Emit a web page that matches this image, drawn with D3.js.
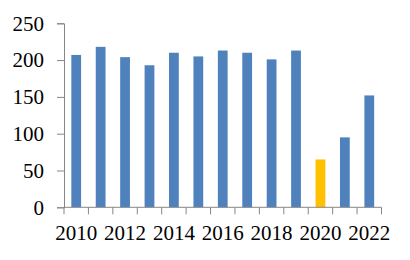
<!DOCTYPE html>
<html>
<head>
<meta charset="utf-8">
<title>chart</title>
<script src="https://cdn.jsdelivr.net/npm/d3@7"></script>
<style>
body { margin: 0; background: #fff; }
text { font-family: "Liberation Serif", "DejaVu Serif", serif; font-size: 21px; fill: #000; }
</style>
</head>
<body>
<svg id="chart" width="410" height="260"></svg>
<script>
// values
var years = [2010, 2011, 2012, 2013, 2014, 2015, 2016, 2017, 2018, 2019, 2020, 2021, 2022];
var values = [207, 218, 204, 193, 210, 205, 213, 210, 201, 213, 65, 95, 152];
var highlight_year = 2020;
var y_ticks = [0, 50, 100, 150, 200, 250];
var x_labels = [2010, 2012, 2014, 2016, 2018, 2020, 2022];

var plot_left = 64, plot_right = 381.5, plot_top = 23.3, plot_bottom = 207.3;

var svg = d3.select("#chart");

var x = d3.scaleBand().domain(years).range([plot_left, plot_right]).paddingInner(0.6).paddingOuter(0.3);
var y = d3.scaleLinear().domain([0, 250]).range([plot_bottom, plot_top]);

// bars
svg.append("g").selectAll("rect").data(values).enter()
  .append("rect")
  .attr("x", function(d, i) { return x(years[i]); })
  .attr("width", x.bandwidth())
  .attr("y", function(d) { return y(d); })
  .attr("height", function(d) { return y(0) - y(d); })
  .style("fill", function(d, i) { return years[i] == highlight_year ? "#FFC000" : "#4F81BD"; });

// y axis
var yAxis = svg.append("g").attr("transform", "translate(" + plot_left + ",0)")
  .call(d3.axisLeft(y).tickValues(y_ticks).tickSize(7).tickPadding(13));
yAxis.selectAll("path, line").style("stroke", "#868686");
yAxis.selectAll("text").attr("font-size", null).attr("font-family", null).attr("fill", null);
yAxis.attr("font-size", null).attr("font-family", null);

// x axis: ticks at band edges
var xg = svg.append("g");
xg.append("line").attr("x1", plot_left).attr("x2", plot_right).attr("y1", plot_bottom).attr("y2", plot_bottom)
  .style("stroke", "#868686");
var tickPos = d3.range(years.length + 1).map(function(i) { return plot_left + (plot_right - plot_left) * i / years.length; });
xg.selectAll("line.tick").data(tickPos).enter().append("line")
  .attr("class", "tick")
  .attr("x1", function(d) { return d; }).attr("x2", function(d) { return d; })
  .attr("y1", plot_bottom).attr("y2", plot_bottom + 7)
  .style("stroke", "#868686");
xg.selectAll("text").data(x_labels).enter().append("text")
  .attr("x", function(d) { return x(d) + x.bandwidth() / 2; })
  .attr("y", 240)
  .attr("text-anchor", "middle")
  .text(function(d) { return d; });
</script>
</body>
</html>
